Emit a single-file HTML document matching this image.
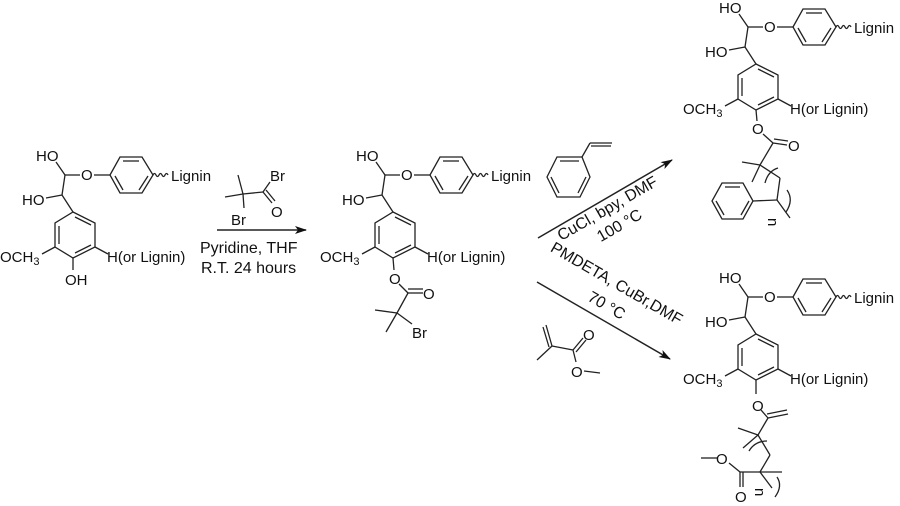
<!DOCTYPE html>
<html><head><meta charset="utf-8"><style>
html,body{margin:0;padding:0;background:#fff}
svg{display:block}
text{font-family:"Liberation Sans",Arial,sans-serif;font-size:15px;fill:#111}
.s{font-size:11px}
.c{font-size:16px}
</style></head><body>
<svg width="900" height="506" viewBox="0 0 900 506" xmlns="http://www.w3.org/2000/svg">
<defs>
<marker id="ah" markerWidth="12" markerHeight="8" refX="11" refY="4" orient="auto" markerUnits="userSpaceOnUse">
<path d="M0,0 L12,4 L0,8 L3,4 Z" fill="#111"/></marker>
</defs>
<g stroke="#222" stroke-width="1.3" fill="none">
<line x1="56" y1="162" x2="65" y2="175"/><line x1="65" y1="175" x2="80" y2="175"/>
<line x1="94" y1="175" x2="110" y2="175"/>
<polygon points="110,175 120,157 142,157 153,175 142,193 120,193"/>
<line x1="123" y1="161" x2="139" y2="161"/><line x1="148" y1="176" x2="139" y2="190"/><line x1="115" y1="176" x2="123" y2="190"/>
<path d="M153,175 q1.5,-3 3,0 t3,0 t3,0 t3,0 t3,0"/>
<line x1="65" y1="175" x2="62" y2="195"/><line x1="46" y1="198" x2="62" y2="195"/><line x1="62" y1="195" x2="73" y2="212"/>
<polygon points="73,212 95,223 95,247 73,258 55,247 55,223"/>
<line x1="59" y1="226" x2="59" y2="244"/><line x1="91" y1="245" x2="75" y2="253"/><line x1="75" y1="217" x2="91" y2="225"/>
<line x1="55" y1="247" x2="42" y2="254"/><line x1="95" y1="247" x2="108" y2="254"/>
<line x1="73" y1="258" x2="73" y2="270"/>
</g>
<g>
<text x="36" y="161">HO</text><text x="81" y="180">O</text><text x="171" y="181">Lignin</text>
<text x="22" y="205">HO</text><text x="0" y="262">OCH<tspan class="s" dy="3">3</tspan></text>
<text x="107" y="262">H(or Lignin)</text><text x="65" y="285">OH</text>
</g>

<g transform="translate(320,0)">
<g stroke="#222" stroke-width="1.3" fill="none">
<line x1="56" y1="162" x2="65" y2="175"/><line x1="65" y1="175" x2="80" y2="175"/>
<line x1="94" y1="175" x2="110" y2="175"/>
<polygon points="110,175 120,157 142,157 153,175 142,193 120,193"/>
<line x1="123" y1="161" x2="139" y2="161"/><line x1="148" y1="176" x2="139" y2="190"/><line x1="115" y1="176" x2="123" y2="190"/>
<path d="M153,175 q1.5,-3 3,0 t3,0 t3,0 t3,0 t3,0"/>
<line x1="65" y1="175" x2="62" y2="195"/><line x1="46" y1="198" x2="62" y2="195"/><line x1="62" y1="195" x2="73" y2="212"/>
<polygon points="73,212 95,223 95,247 73,258 55,247 55,223"/>
<line x1="59" y1="226" x2="59" y2="244"/><line x1="91" y1="245" x2="75" y2="253"/><line x1="75" y1="217" x2="91" y2="225"/>
<line x1="55" y1="247" x2="42" y2="254"/><line x1="95" y1="247" x2="108" y2="254"/>
</g>
<text x="36" y="161">HO</text><text x="81" y="180">O</text><text x="171" y="181">Lignin</text>
<text x="22" y="205">HO</text><text x="0" y="262">OCH<tspan class="s" dy="3">3</tspan></text>
<text x="107" y="262">H(or Lignin)</text>
</g>
<g stroke="#222" stroke-width="1.3" fill="none">
<line x1="393" y1="258" x2="394" y2="270"/><line x1="399" y1="284" x2="408" y2="293"/>
<line x1="408" y1="293" x2="423" y2="293"/><line x1="408" y1="289" x2="423" y2="289"/>
<line x1="408" y1="293" x2="397" y2="313"/><line x1="397" y1="313" x2="375" y2="310"/>
<line x1="397" y1="313" x2="386" y2="332"/><line x1="397" y1="313" x2="412" y2="324"/>
</g>
<text x="389" y="284">O</text><text x="423" y="299">O</text><text x="412" y="338">Br</text>

<g stroke="#222" stroke-width="1.3" fill="none">
<line x1="238" y1="175" x2="243" y2="194"/><line x1="225" y1="197" x2="243" y2="194"/>
<line x1="243" y1="194" x2="263" y2="192"/><line x1="263" y1="192" x2="270" y2="182"/>
<line x1="263" y1="192" x2="272" y2="203"/><line x1="266" y1="190" x2="275" y2="201"/>
<line x1="243" y1="194" x2="244" y2="208"/>
<line x1="217" y1="230" x2="306" y2="230" stroke-width="1.5" marker-end="url(#ah)"/>
</g>
<text x="270" y="181">Br</text><text x="271" y="217">O</text><text x="231" y="225">Br</text>
<text class="c" x="200" y="253">Pyridine, THF</text><text class="c" x="201" y="273">R.T. 24 hours</text>

<g stroke="#222" stroke-width="1.3" fill="none">
<polygon points="582,157 590,177 580,197 557,197 547,177 557,157"/>
<line x1="560" y1="161" x2="579" y2="161"/><line x1="586" y1="177" x2="578" y2="193"/><line x1="551" y1="177" x2="559" y2="193"/>
<line x1="582" y1="157" x2="590" y2="143"/><line x1="590" y1="143" x2="612" y2="143"/><line x1="591" y1="146" x2="611" y2="146"/>
<line x1="538" y1="238" x2="672" y2="160" stroke-width="1.5" marker-end="url(#ah)"/>
<line x1="537" y1="282" x2="670" y2="359" stroke-width="1.5" marker-end="url(#ah)"/>
<line x1="546" y1="325" x2="552" y2="346"/><line x1="543" y1="327" x2="549" y2="347"/>
<line x1="552" y1="346" x2="537" y2="360"/><line x1="552" y1="346" x2="573" y2="350"/>
<line x1="573" y1="350" x2="583" y2="338"/><line x1="576" y1="352" x2="586" y2="340"/>
<line x1="573" y1="350" x2="576" y2="362"/><line x1="584" y1="371" x2="600" y2="373"/>
</g>
<text x="583" y="340">O</text><text x="571" y="377">O</text>
<text class="c" transform="translate(610,213) rotate(-30)" text-anchor="middle">CuCl, bpy, DMF</text>
<text class="c" transform="translate(622,230) rotate(-30)" text-anchor="middle">100 °C</text>
<text class="c" transform="translate(614,288) rotate(30)" text-anchor="middle">PMDETA, CuBr,DMF</text>
<text class="c" transform="translate(604,310) rotate(30)" text-anchor="middle">70 °C</text>

<g transform="translate(683,-148)">
<g stroke="#222" stroke-width="1.3" fill="none">
<line x1="56" y1="162" x2="65" y2="175"/><line x1="65" y1="175" x2="80" y2="175"/>
<line x1="94" y1="175" x2="110" y2="175"/>
<polygon points="110,175 120,157 142,157 153,175 142,193 120,193"/>
<line x1="123" y1="161" x2="139" y2="161"/><line x1="148" y1="176" x2="139" y2="190"/><line x1="115" y1="176" x2="123" y2="190"/>
<path d="M153,175 q1.5,-3 3,0 t3,0 t3,0 t3,0 t3,0"/>
<line x1="65" y1="175" x2="62" y2="195"/><line x1="46" y1="198" x2="62" y2="195"/><line x1="62" y1="195" x2="73" y2="212"/>
<polygon points="73,212 95,223 95,247 73,258 55,247 55,223"/>
<line x1="59" y1="226" x2="59" y2="244"/><line x1="91" y1="245" x2="75" y2="253"/><line x1="75" y1="217" x2="91" y2="225"/>
<line x1="55" y1="247" x2="42" y2="254"/><line x1="95" y1="247" x2="108" y2="254"/>
</g>
<text x="36" y="161">HO</text><text x="81" y="180">O</text><text x="171" y="181">Lignin</text>
<text x="22" y="205">HO</text><text x="0" y="262">OCH<tspan class="s" dy="3">3</tspan></text>
<text x="107" y="262">H(or Lignin)</text>
</g>
<g stroke="#222" stroke-width="1.3" fill="none">
<line x1="756" y1="110" x2="757" y2="121"/><line x1="763" y1="134" x2="773" y2="143"/>
<line x1="773" y1="143" x2="787" y2="145"/><line x1="774" y1="139" x2="788" y2="141"/>
<line x1="773" y1="143" x2="760" y2="165"/><line x1="760" y1="165" x2="742" y2="162"/>
<line x1="760" y1="165" x2="752" y2="182"/><line x1="760" y1="165" x2="780" y2="178"/>
<path d="M765,183 Q768,171 778,168"/>
<line x1="780" y1="178" x2="777" y2="200"/><line x1="777" y1="200" x2="753" y2="201"/>
<polygon points="753,201 743,183 722,183 712,201 722,219 743,219"/>
<line x1="725" y1="187" x2="740" y2="187"/><line x1="716" y1="201" x2="724" y2="215"/><line x1="741" y1="215" x2="749" y2="201"/>
<line x1="777" y1="200" x2="790" y2="218"/>
<path d="M787,190 Q794,200 786,212"/>
</g>
<text x="752" y="134">O</text><text x="788" y="151">O</text>
<text transform="translate(768,218) rotate(90)" font-size="14">n</text>

<g transform="translate(683,122)">
<g stroke="#222" stroke-width="1.3" fill="none">
<line x1="56" y1="162" x2="65" y2="175"/><line x1="65" y1="175" x2="80" y2="175"/>
<line x1="94" y1="175" x2="110" y2="175"/>
<polygon points="110,175 120,157 142,157 153,175 142,193 120,193"/>
<line x1="123" y1="161" x2="139" y2="161"/><line x1="148" y1="176" x2="139" y2="190"/><line x1="115" y1="176" x2="123" y2="190"/>
<path d="M153,175 q1.5,-3 3,0 t3,0 t3,0 t3,0 t3,0"/>
<line x1="65" y1="175" x2="62" y2="195"/><line x1="46" y1="198" x2="62" y2="195"/><line x1="62" y1="195" x2="73" y2="212"/>
<polygon points="73,212 95,223 95,247 73,258 55,247 55,223"/>
<line x1="59" y1="226" x2="59" y2="244"/><line x1="91" y1="245" x2="75" y2="253"/><line x1="75" y1="217" x2="91" y2="225"/>
<line x1="55" y1="247" x2="42" y2="254"/><line x1="95" y1="247" x2="108" y2="254"/>
</g>
<text x="36" y="161">HO</text><text x="81" y="180">O</text><text x="171" y="181">Lignin</text>
<text x="22" y="205">HO</text><text x="0" y="262">OCH<tspan class="s" dy="3">3</tspan></text>
<text x="107" y="262">H(or Lignin)</text>
</g>
<g stroke="#222" stroke-width="1.3" fill="none">
<line x1="756" y1="380" x2="756" y2="394"/><line x1="761" y1="410" x2="768" y2="418"/>
<line x1="768" y1="418" x2="788" y2="414"/><line x1="767" y1="414" x2="787" y2="410"/>
<line x1="768" y1="418" x2="758" y2="435"/><line x1="758" y1="435" x2="738" y2="428"/>
<line x1="758" y1="435" x2="743" y2="448"/>
<path d="M749,451 Q755,441 767,441"/>
<line x1="758" y1="435" x2="770" y2="455"/><line x1="770" y1="455" x2="760" y2="472"/>
<line x1="760" y1="472" x2="782" y2="472"/><line x1="760" y1="472" x2="740" y2="472"/>
<line x1="740" y1="472" x2="740" y2="487"/><line x1="743" y1="472" x2="743" y2="487"/>
<line x1="740" y1="472" x2="729" y2="463"/><line x1="717" y1="458" x2="701" y2="458"/>
<line x1="760" y1="472" x2="772" y2="488"/>
<path d="M777,477 Q783,486 775,497"/>
</g>
<text x="752" y="411">O</text><text x="716" y="464">O</text><text x="735" y="502">O</text>
<text transform="translate(755,488) rotate(90)" font-size="14">n</text>
</svg>
</body></html>
